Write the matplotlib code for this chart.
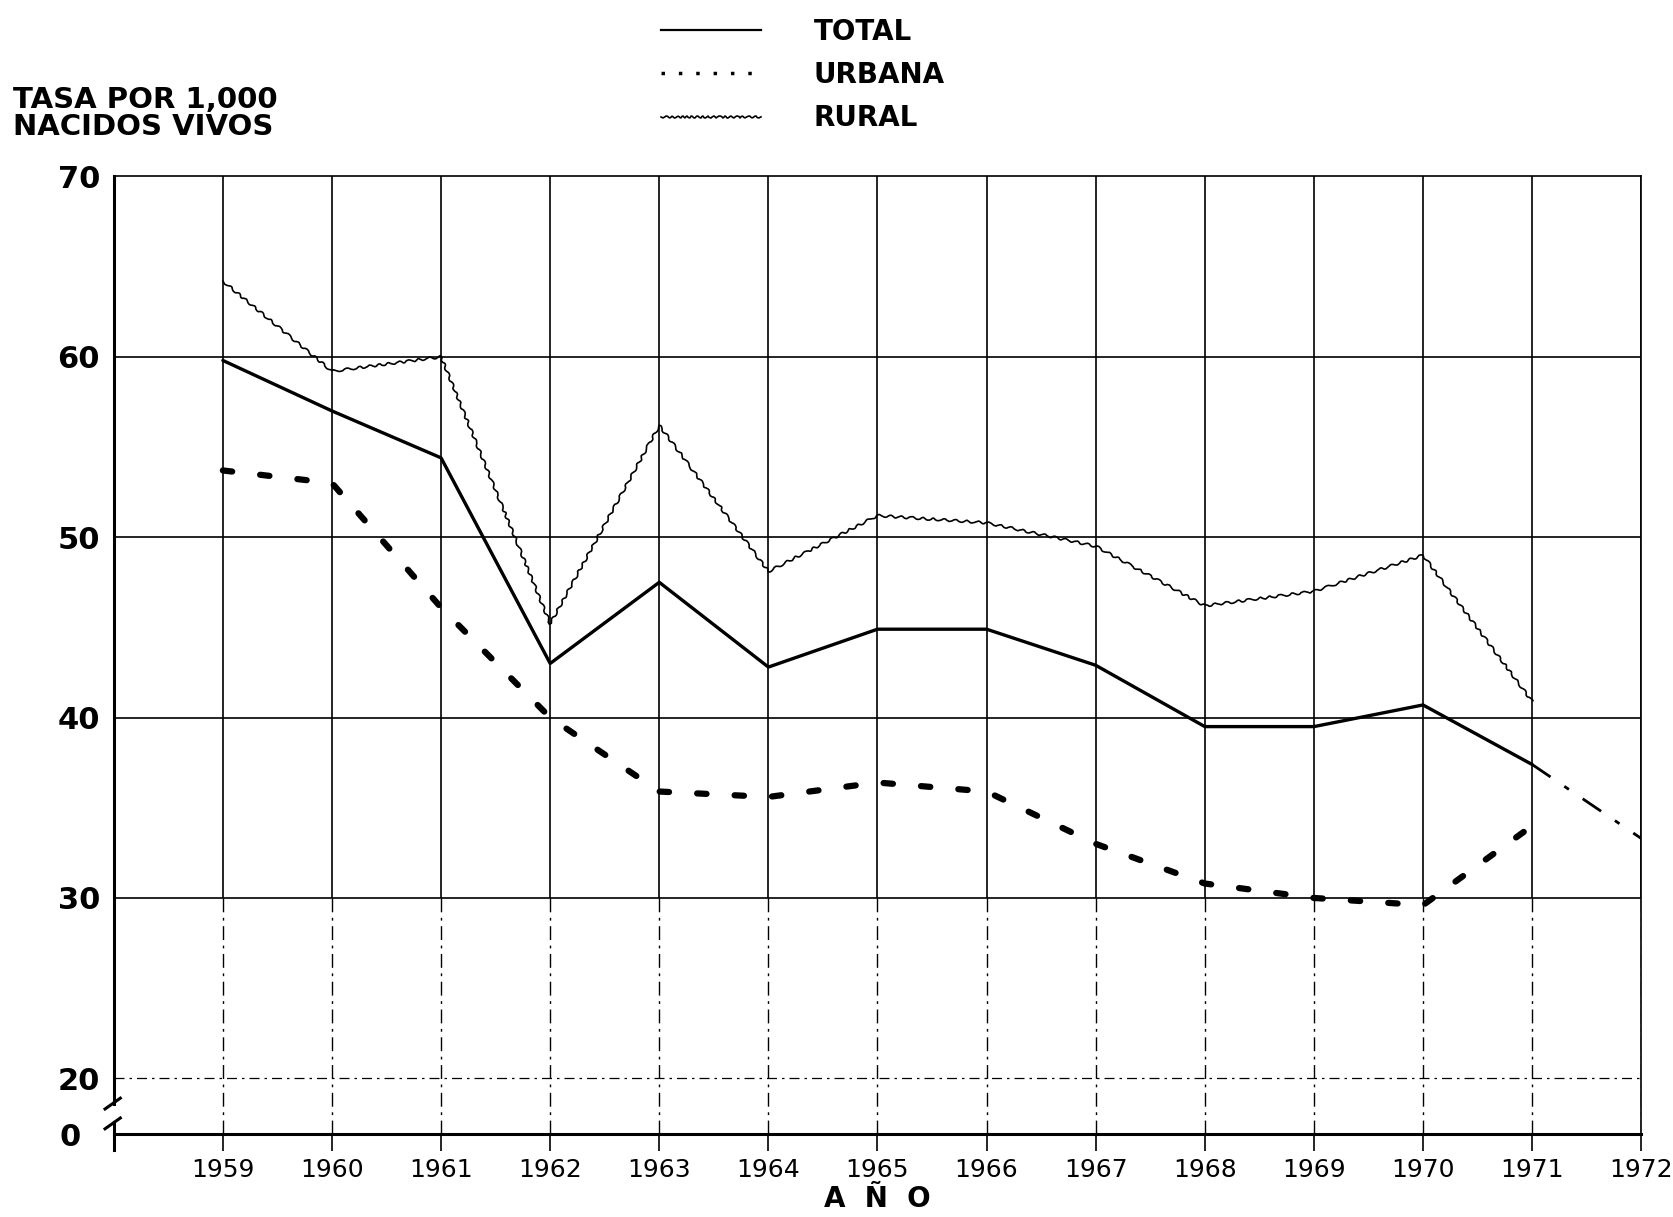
import numpy as np
import matplotlib.pyplot as plt
from matplotlib.lines import Line2D
import matplotlib.transforms as mtransforms

plt.rcParams['font.family'] = ['DejaVu Sans']

years = [1959, 1960, 1961, 1962, 1963, 1964, 1965, 1966, 1967, 1968, 1969, 1970, 1971, 1972]
total = [59.8, 57.0, 54.4, 43.0, 47.5, 42.8, 44.9, 44.9, 42.9, 39.5, 39.5, 40.7, 37.4, 33.3]
# urbana y rural llegan hasta 1971
urbana = [53.7, 53.0, 46.1, 40.0, 35.9, 35.6, 36.4, 35.9, 33.0, 30.8, 30.0, 29.6, 34.0]
rural = [64.2, 59.2, 60.0, 45.2, 56.2, 48.1, 51.2, 50.8, 49.5, 46.2, 47.0, 49.0, 40.9]
ytick_vals = [20, 30, 40, 50, 60, 70]

# eje con corte: el 0 se dibuja justo debajo del 20
y0 = 16.9

fig = plt.figure(figsize=(16.73, 12.17), dpi=100)
ax = fig.add_axes([0.068, 0.068, 0.913, 0.787])
ax.set_xlim(1958, 1972)
ax.set_ylim(y0, 70)

# cuadricula
for v in [30, 40, 50, 60]:
    ax.axhline(v, color='black', lw=1.2, zorder=1)
ax.axhline(20, color='black', lw=0.9, ls=(0, (8, 4, 2, 4)), zorder=1)
ax.vlines(years, 30, 70, color='black', lw=1.2, zorder=1)
ax.vlines(years, y0, 30, color='black', lw=1.0, ls=(0, (10, 4, 2, 4)), zorder=1)

# series
ax.plot(years[:-1], total[:-1], color='black', lw=2.4, solid_capstyle='round', zorder=3)
ax.plot(years[-2:], total[-2:], color='black', lw=2.0, ls=(0, (8, 6, 2, 6)), zorder=3)
ax.plot(years[:len(urbana)], urbana, color='black', lw=4.5, ls=(0, (1.5, 4.5)),
        dash_capstyle='round', zorder=3)
r, = ax.plot(years[:len(rural)], rural, color='black', lw=1.2, zorder=3)
r.set_sketch_params(1.2, 12, 2)

# ejes
for s in ['top', 'right']:
    ax.spines[s].set_linewidth(1.2)
ax.spines['bottom'].set_linewidth(2.2)
ax.spines['left'].set_visible(False)
ax.plot([1958, 1958], [18.6, 70], color='black', lw=2.2, clip_on=False, zorder=4)
ax.plot([1958, 1958], [y0 - 0.9, 17.6], color='black', lw=2.2, clip_on=False, zorder=4)
ax.plot([1957.92, 1958.06], [18.3, 18.9], color='black', lw=2.2, clip_on=False, zorder=4)
ax.plot([1957.92, 1958.06], [17.2, 17.8], color='black', lw=2.2, clip_on=False, zorder=4)

ax.set_xticks(years)
ax.set_xticklabels([str(y) for y in years], fontsize=18)
ax.tick_params(axis='x', direction='out', length=12, width=1.2, pad=5)
ax.set_yticks([y0] + ytick_vals)
ax.set_yticklabels(['0'] + [str(v) for v in ytick_vals], fontsize=22, fontweight='bold')
ax.tick_params(axis='y', length=0, pad=10)
# el 0 queda un poco a la izquierda de las marcas de corte
lbl0 = ax.get_yticklabels()[0]
lbl0.set_transform(lbl0.get_transform() + mtransforms.ScaledTranslation(-14 / 72, 0, fig.dpi_scale_trans))

ax.set_xlabel('A  Ñ  O', fontsize=20, fontweight='bold', labelpad=2)
fig.text(0.008, 0.884, 'TASA POR 1,000\nNACIDOS VIVOS', fontsize=21, fontweight='bold',
         ha='left', va='bottom', linespacing=0.95)

handles = [
    Line2D([], [], color='black', lw=1.6),
    Line2D([], [], color='black', lw=2.5, ls=(0, (1, 4))),
    Line2D([], [], color='black', lw=1.2),
]
handles[2].set_sketch_params(1.0, 6, 2)
fig.legend(handles, ['TOTAL', 'URBANA', 'RURAL'], loc='upper left',
           bbox_to_anchor=(0.38, 1.006), frameon=False, prop={'size': 20, 'weight': 'bold'},
           handlelength=3.6, handletextpad=1.9, labelspacing=0.55)

fig.savefig('out.png', dpi=100)
